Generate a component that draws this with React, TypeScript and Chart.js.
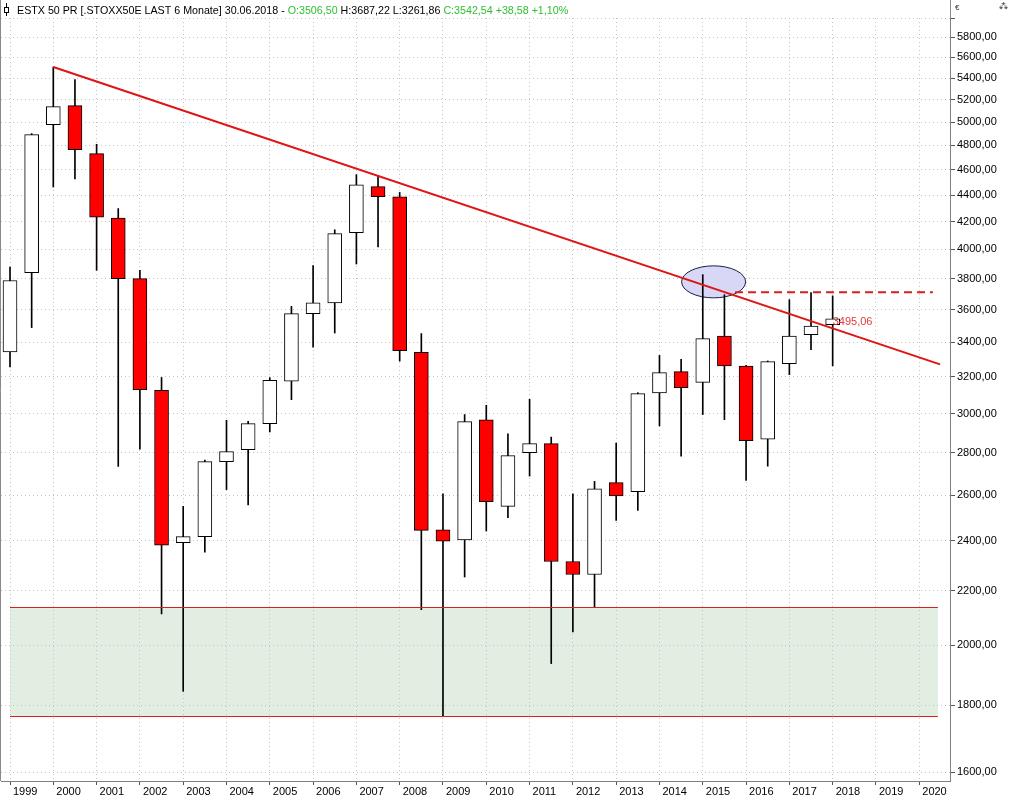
import React, { useEffect, useRef } from 'react';
import { Chart, registerables } from 'chart.js';

Chart.register(...registerables);

// Half-year periods 1999 H1 .. 2018 H1
const PERIODS = [
  '1999 H1', '1999 H2', '2000 H1', '2000 H2', '2001 H1', '2001 H2', '2002 H1', '2002 H2',
  '2003 H1', '2003 H2', '2004 H1', '2004 H2', '2005 H1', '2005 H2', '2006 H1', '2006 H2',
  '2007 H1', '2007 H2', '2008 H1', '2008 H2', '2009 H1', '2009 H2', '2010 H1', '2010 H2',
  '2011 H1', '2011 H2', '2012 H1', '2012 H2', '2013 H1', '2013 H2', '2014 H1', '2014 H2',
  '2015 H1', '2015 H2', '2016 H1', '2016 H2', '2017 H1', '2017 H2', '2018 H1',
];
const OPEN = [
  3342, 3840, 4978, 5146, 4731, 4225, 3800, 3125,
  2393, 2418, 2758, 2816, 2948, 3175, 3574, 3642,
  4119, 4465, 4387, 3340, 2447, 2404, 2968, 2550,
  2802, 2846, 2315, 2263, 2658, 2616, 3111, 3229,
  3169, 3437, 3261, 2869, 3274, 3445, 3506.5,
];
const HIGH = [
  3878, 4900, 5506, 5386, 4809, 4296, 3856, 3196,
  2550, 2765, 2965, 2960, 3195, 3620, 3888, 4140,
  4560, 4555, 4420, 3451, 2607, 2995, 3044, 2896,
  3076, 2879, 2607, 2664, 2849, 3112, 3322, 3299,
  3827, 3695, 3265, 3290, 3663, 3708, 3687.22,
];
const LOW = [
  3255, 3488, 4462, 4525, 3856, 2735, 2819, 2112,
  1844, 2353, 2626, 2556, 2905, 3074, 3371, 3455,
  3899, 4017, 3289, 2128, 1765, 2253, 2442, 2500,
  2689, 1936, 2046, 2135, 2488, 2532, 2936, 2785,
  2995, 2968, 2669, 2736, 3212, 3356, 3261.86,
];
const CLOSE = [
  3788, 4891, 5137, 4764, 4233, 3800, 3128, 2382,
  2418, 2758, 2807, 2948, 3180, 3574, 3642, 4112,
  4480, 4387, 3350, 2445, 2399, 2958, 2571, 2787,
  2846, 2315, 2263, 2630, 2597, 3107, 3223, 3140,
  3421, 3261, 2861, 3286, 3437, 3497, 3542.54,
];

const YEAR_LABELS = [
  '1999', '2000', '2001', '2002', '2003', '2004', '2005', '2006', '2007', '2008', '2009',
  '2010', '2011', '2012', '2013', '2014', '2015', '2016', '2017', '2018', '2019', '2020',
];
const Y_TICKS = [
  1600, 1800, 2000, 2200, 2400, 2600, 2800, 3000, 3200, 3400, 3600, 3800, 4000,
  4200, 4400, 4600, 4800, 5000, 5200, 5400, 5600, 5800, 6000,
];

// Trend line (resistance from 2000 high), horizontal dashed line, support zone
const TREND_X = [2, 42.96];
const TREND_Y = [5506, 3270];
const DASH_X = [33.49, 42.63];
const DASH_Y = [3710, 3710];
const ZONE_X = [0, 42.86];
const ZONE_Y = [1765, 2136];
const ELLIPSE_AT = [32.5, 3779];
const LAST_LABEL = '3495,06';
const LAST_LABEL_AT = [38, 3525];

const HEADER_TEXT = [
  'ESTX 50 PR [.STOXX50E LAST 6 Monate] 30.06.2018 - ',
  'O:3506,50',
  ' H:3687,22 L:3261,86 ',
  'C:3542,54 +38,58 +1,10%',
];
const HEADER_COLORS = ['#000000', '#2fbf2f', '#000000', '#2fbf2f'];

const X_MIN = -0.416;
const X_MAX = 43.42;
const Y_MIN = 1576;
const Y_MAX = 6000;

const FONT = '"Liberation Sans", Arial, sans-serif';

export default function App() {
  const ref = useRef<HTMLCanvasElement>(null);

  useEffect(() => {
    const canvas = ref.current;
    if (!canvas) return;

    const bodies = OPEN.map((o, i) => ({ x: i, y: [o, CLOSE[i]] }));
    const wicks = OPEN.map((_, i) => ({ x: i, y: [LOW[i], HIGH[i]] }));
    const bodyColors = OPEN.map((o, i) => (CLOSE[i] >= o ? '#ffffff' : '#ff0000'));
    const trend = TREND_X.map((x, i) => ({ x, y: TREND_Y[i] }));
    const dash = DASH_X.map((x, i) => ({ x, y: DASH_Y[i] }));

    const overlay = {
      id: 'overlay',
      beforeDraw(chart: any) {
        const { ctx, scales } = chart;
        const xs = scales.x;
        const ys = scales.y;
        const x1 = xs.getPixelForValue(ZONE_X[0]);
        const x2 = xs.getPixelForValue(ZONE_X[1]);
        const yTop = Math.round(ys.getPixelForValue(ZONE_Y[1]));
        const yBot = Math.round(ys.getPixelForValue(ZONE_Y[0]));
        ctx.save();
        ctx.fillStyle = '#e3eee3';
        ctx.fillRect(x1, yTop, x2 - x1, yBot - yTop);
        ctx.restore();
      },
      beforeDatasetsDraw(chart: any) {
        const { ctx, scales } = chart;
        const xs = scales.x;
        const ys = scales.y;
        const cx = xs.getPixelForValue(ELLIPSE_AT[0]);
        const cy = ys.getPixelForValue(ELLIPSE_AT[1]);
        ctx.save();
        ctx.beginPath();
        ctx.ellipse(cx, cy, 32, 16, 0, 0, Math.PI * 2);
        ctx.fillStyle = '#d8d8f6';
        ctx.fill();
        ctx.strokeStyle = '#1c1c4a';
        ctx.lineWidth = 1;
        ctx.stroke();
        ctx.restore();
      },
      afterDatasetsDraw(chart: any) {
        const { ctx, scales } = chart;
        const xs = scales.x;
        const ys = scales.y;
        const x1 = xs.getPixelForValue(ZONE_X[0]);
        const x2 = xs.getPixelForValue(ZONE_X[1]);
        const yTop = Math.round(ys.getPixelForValue(ZONE_Y[1]));
        const yBot = Math.round(ys.getPixelForValue(ZONE_Y[0]));
        ctx.save();
        ctx.fillStyle = '#dc1e1e';
        ctx.fillRect(x1, yTop, x2 - x1, 1);
        ctx.fillRect(x1, yBot, x2 - x1, 1);
        ctx.restore();
      },
      afterDraw(chart: any) {
        const { ctx, scales, chartArea } = chart;
        ctx.save();
        // left border
        ctx.strokeStyle = '#8a8a8a';
        ctx.lineWidth = 1;
        ctx.beginPath();
        ctx.moveTo(chartArea.left - 0.5, 0);
        ctx.lineTo(chartArea.left - 0.5, chartArea.bottom);
        ctx.moveTo(chartArea.right + 0.5, 0);
        ctx.lineTo(chartArea.right + 0.5, chartArea.top);
        ctx.stroke();

        // last value label
        ctx.font = '11px ' + FONT;
        ctx.fillStyle = '#e23a3a';
        ctx.textBaseline = 'middle';
        ctx.textAlign = 'left';
        ctx.fillText(
          LAST_LABEL,
          scales.x.getPixelForValue(LAST_LABEL_AT[0]),
          scales.y.getPixelForValue(LAST_LABEL_AT[1])
        );

        // header icon
        ctx.strokeStyle = '#000';
        ctx.beginPath();
        ctx.moveTo(6.5, 3);
        ctx.lineTo(6.5, 16);
        ctx.stroke();
        ctx.fillStyle = '#fff';
        ctx.fillRect(4.5, 7.5, 4, 5);
        ctx.strokeRect(4.5, 7.5, 4, 5);

        // header text
        ctx.font = '10.7px ' + FONT;
        ctx.textBaseline = 'alphabetic';
        let x = 17;
        HEADER_TEXT.forEach((t, i) => {
          ctx.fillStyle = HEADER_COLORS[i];
          ctx.fillText(t, x, 14);
          x += ctx.measureText(t).width;
        });

        // currency sign
        ctx.font = '8px ' + FONT;
        ctx.fillStyle = '#333';
        ctx.fillText('€', 955, 10);
        ctx.fillText('\u2042', 999, 8);
        ctx.restore();
      },
    };

    const chart = new Chart(canvas, {
      type: 'bar',
      data: {
        datasets: [
          {
            type: 'line',
            data: trend,
            borderColor: '#e01414',
            borderWidth: 2,
            pointRadius: 0,
            fill: false,
            tension: 0,
            order: 0,
          } as any,
          {
            type: 'line',
            data: dash,
            borderColor: '#d42020',
            borderWidth: 2,
            borderDash: [8, 5],
            pointRadius: 0,
            fill: false,
            tension: 0,
            order: 0,
          } as any,
          {
            type: 'bar',
            label: 'Body',
            data: bodies,
            backgroundColor: bodyColors,
            borderColor: '#000000',
            borderWidth: 1,
            borderSkipped: false,
            barThickness: 14,
            grouped: false,
            order: 1,
          } as any,
          {
            type: 'bar',
            label: 'Wick',
            data: wicks,
            backgroundColor: '#000000',
            borderWidth: 0,
            barThickness: 1,
            grouped: false,
            order: 2,
          } as any,
        ],
      },
      options: {
        responsive: false,
        animation: false,
        devicePixelRatio: 1,
        layout: { padding: { top: 18, left: 1, right: 0, bottom: 0 } },
        plugins: {
          legend: { display: false },
          tooltip: { enabled: false },
        },
        scales: {
          x: {
            type: 'linear',
            position: 'bottom',
            min: X_MIN,
            max: X_MAX,
            offset: false,
            afterBuildTicks: (s: any) => {
              s.ticks = YEAR_LABELS.map((_, k) => ({ value: 2 * k }));
            },
            afterFit: (s: any) => {
              s.height = 19;
            },
            grid: {
              offset: false,
              color: '#c4c4c4',
              lineWidth: 1,
              drawTicks: true,
              tickLength: 4,
              tickColor: '#555555',
            },
            border: { display: true, color: '#808080', width: 1, dash: [1, 3] },
            ticks: {
              autoSkip: false,
              maxRotation: 0,
              align: 'start',
              labelOffset: 3,
              padding: 0,
              color: '#000000',
              font: { family: FONT, size: 11 },
              callback: (_v: any, i: number) => YEAR_LABELS[i],
            },
          } as any,
          y: {
            type: 'logarithmic',
            position: 'right',
            min: Y_MIN,
            max: Y_MAX,
            afterBuildTicks: (s: any) => {
              s.ticks = Y_TICKS.map((v) => ({ value: v }));
            },
            afterFit: (s: any) => {
              s.width = 59;
            },
            grid: {
              color: '#c4c4c4',
              lineWidth: 1,
              drawTicks: true,
              tickLength: 5,
              tickColor: '#555555',
            },
            border: { display: true, color: '#808080', width: 1, dash: [1, 3] },
            ticks: {
              autoSkip: false,
              padding: 2,
              color: '#000000',
              font: { family: FONT, size: 11 },
              callback: (v: any) => (v >= Y_MAX ? '' : `${v},00`),
            },
          } as any,
        },
      },
      plugins: [overlay],
    } as any);

    return () => chart.destroy();
  }, []);

  return (
    <div style={{ position: 'absolute', left: 0, top: 0, width: 1009, height: 800 }}>
      <canvas ref={ref} width={1009} height={800} style={{ display: 'block' }} />
    </div>
  );
}
